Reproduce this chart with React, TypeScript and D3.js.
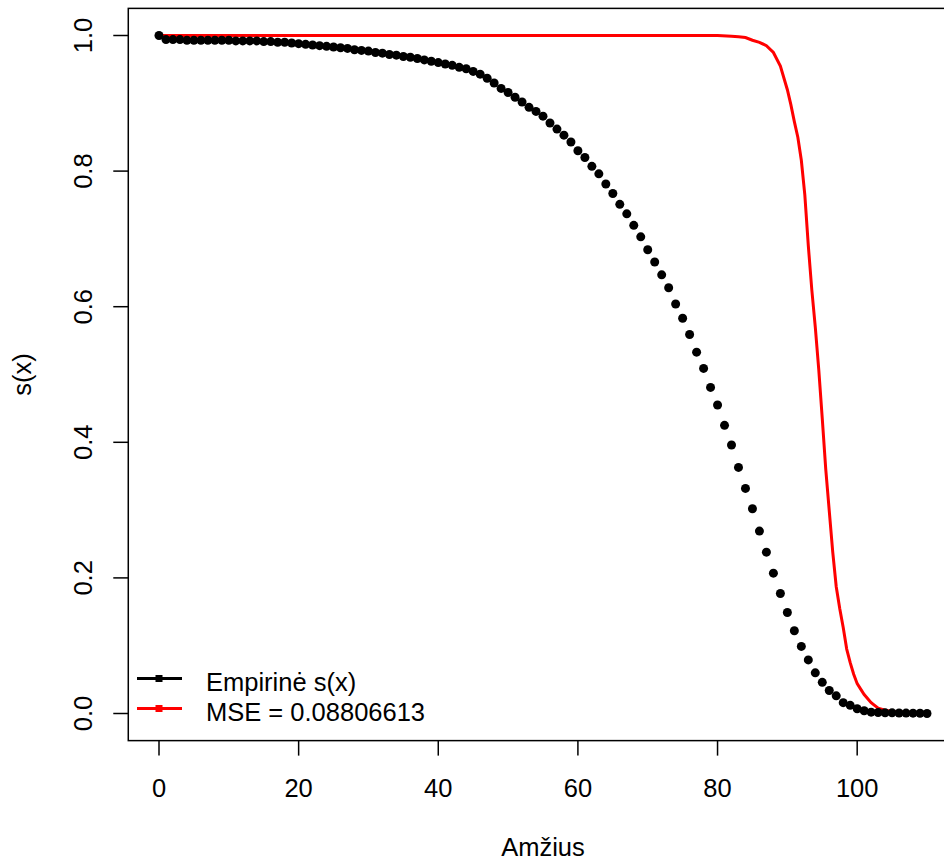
import React from "react";
import * as d3 from "d3";

// Empirical survival s(x), ages 0..110
const ages: number[] = d3.range(0, 111);
const empirical: number[] = [
  1.0,
  0.994, 0.994, 0.994, 0.993, 0.993, 0.993, 0.993, 0.993, 0.993, 0.993,
  0.992, 0.992, 0.992, 0.992, 0.991, 0.991, 0.99, 0.99, 0.989, 0.988,
  0.987, 0.986, 0.985, 0.984, 0.983, 0.982, 0.981, 0.979, 0.978, 0.977,
  0.975, 0.974, 0.972, 0.971, 0.969, 0.968, 0.966, 0.964, 0.962, 0.96,
  0.958, 0.956, 0.953, 0.951, 0.947, 0.943, 0.937, 0.93, 0.922, 0.916,
  0.909, 0.902, 0.894, 0.888, 0.881, 0.871, 0.862, 0.853, 0.843, 0.83,
  0.82, 0.807, 0.796, 0.781, 0.767, 0.751, 0.737, 0.72, 0.703, 0.684,
  0.666, 0.647, 0.628, 0.604, 0.583, 0.559, 0.533, 0.509, 0.481, 0.455,
  0.425, 0.396, 0.363, 0.332, 0.302, 0.269, 0.238, 0.207, 0.177, 0.149,
  0.122, 0.099, 0.079, 0.06, 0.046, 0.034, 0.026, 0.016, 0.012, 0.007,
  0.004, 0.002, 0.0015, 0.001, 0.001, 0.0008, 0.0006, 0.0005, 0.0003, 0.0,
];

// Fitted model curve (MSE legend)
const fitX: number[] = [
  0, 80, 82, 83, 84, 85, 86, 87, 88, 89, 90, 90.5, 91, 91.5, 92, 92.5, 93,
  93.5, 94, 94.5, 95, 95.5, 96, 96.5, 97, 97.5, 98, 98.5, 99, 99.5, 100,
  100.5, 101, 102, 103, 104, 105, 107, 110,
];
const fitY: number[] = [
  1.0, 1.0, 0.999, 0.998, 0.997, 0.993, 0.99, 0.985, 0.975, 0.955, 0.92,
  0.898, 0.873, 0.85, 0.816, 0.765, 0.69, 0.625, 0.57, 0.507, 0.435, 0.36,
  0.299, 0.238, 0.187, 0.155, 0.127, 0.095, 0.075, 0.058, 0.044, 0.036,
  0.028, 0.016, 0.008, 0.005, 0.003, 0.002, 0.001,
];

const xTicks: number[] = [0, 20, 40, 60, 80, 100];
const yTicks: number[] = [0, 0.2, 0.4, 0.6, 0.8, 1.0];
const legendLabels: string[] = ["Empirinė s(x)", "MSE = 0.08806613"];
const legendColors: string[] = ["#000000", "#ff0000"];
const xLabel = "Amžius";
const yLabel = "s(x)";

const W = 944;
const H = 861;
const FONT = "'Liberation Sans', Arial, sans-serif";
const FS = 25.5;

export default function App() {
  const x = d3.scaleLinear().domain([0, 110]).range([159, 927]);
  const y = d3.scaleLinear().domain([0, 1]).range([713.5, 35.5]);
  const left = x(-4.4);
  const right = x(114.4);
  const top = y(1.04);
  const bottom = y(-0.04);

  const fitPts: [number, number][] = fitX.map((v, i) => [v, fitY[i]]);
  const line = d3
    .line<[number, number]>()
    .x((d) => x(d[0]))
    .y((d) => y(d[1]));

  return (
    <svg
      width={W}
      height={H}
      style={{ position: "absolute", left: 0, top: 0, background: "#fff" }}
      fontFamily={FONT}
    >
      <rect x={0} y={0} width={W} height={H} fill="#fff" />
      {/* fitted curve */}
      <path d={line(fitPts) || ""} fill="none" stroke="#ff0000" strokeWidth={3} />
      {/* empirical points */}
      {ages.map((a, i) => (
        <circle key={a} cx={x(a)} cy={y(empirical[i])} r={4.5} fill="#000" />
      ))}
      {/* box */}
      <rect
        x={left}
        y={top}
        width={right - left}
        height={bottom - top}
        fill="none"
        stroke="#000"
        strokeWidth={1.5}
      />
      {/* x axis */}
      {xTicks.map((t) => (
        <g key={"x" + t}>
          <line x1={x(t)} x2={x(t)} y1={bottom} y2={bottom + 15} stroke="#000" strokeWidth={1.5} />
          <text x={x(t)} y={796.5} textAnchor="middle" fontSize={FS} fill="#000">
            {t}
          </text>
        </g>
      ))}
      {/* y axis */}
      {yTicks.map((t) => (
        <g key={"y" + t}>
          <line x1={left} x2={left - 15} y1={y(t)} y2={y(t)} stroke="#000" strokeWidth={1.5} />
          <text
            transform={`translate(91.5, ${y(t)}) rotate(-90)`}
            textAnchor="middle"
            fontSize={FS}
            fill="#000"
          >
            {t.toFixed(1)}
          </text>
        </g>
      ))}
      <text x={(left + right) / 2} y={856} textAnchor="middle" fontSize={FS} fill="#000">
        {xLabel}
      </text>
      <text
        transform={`translate(31, ${(top + bottom) / 2}) rotate(-90)`}
        textAnchor="middle"
        fontSize={FS}
        fill="#000"
      >
        {yLabel}
      </text>
      {/* legend */}
      {legendLabels.map((lab, i) => {
        const ly = 678.5 + i * 30;
        return (
          <g key={lab}>
            <line x1={137} x2={182} y1={ly} y2={ly} stroke={legendColors[i]} strokeWidth={3} />
            <rect x={155.5} y={ly - 3.5} width={7} height={7} fill={legendColors[i]} />
            <text x={206} y={ly + 12.5} fontSize={FS} fill="#000">
              {lab}
            </text>
          </g>
        );
      })}
    </svg>
  );
}
